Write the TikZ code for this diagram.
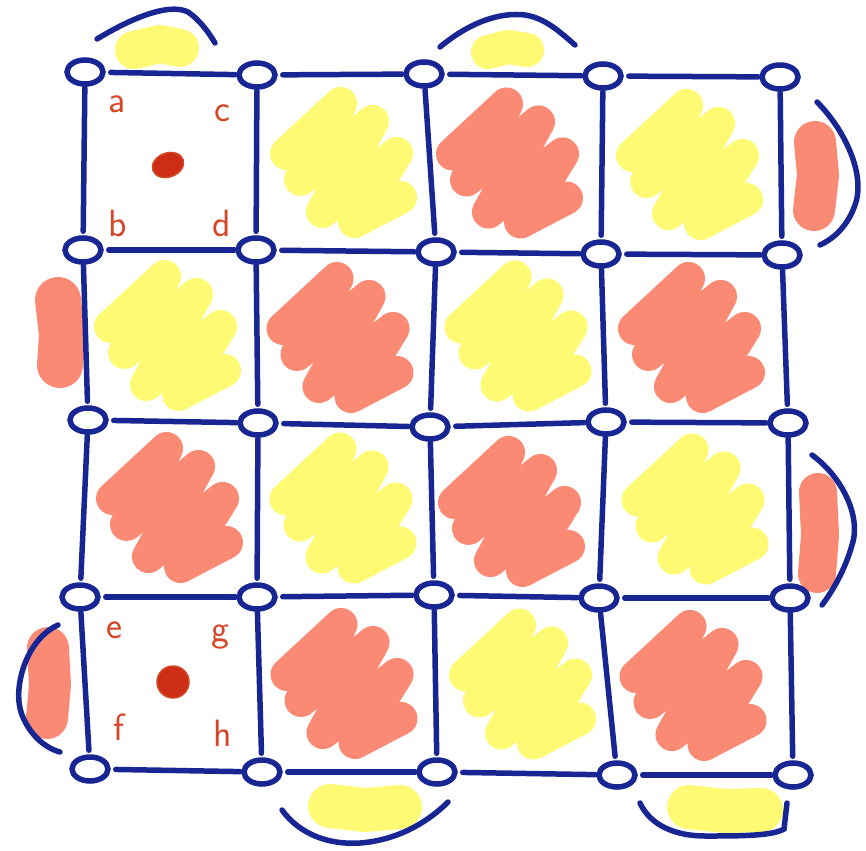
\documentclass[tikz,border=0pt]{standalone}
\usetikzlibrary{shapes.geometric,calc}
\definecolor{ink}{RGB}{24,38,148}
\definecolor{yel}{RGB}{255,250,115}
\definecolor{sal}{RGB}{250,138,115}
\definecolor{lett}{RGB}{212,72,40}
\definecolor{dotc}{RGB}{205,45,20}
\tikzset{
  vtx/.style={ellipse,draw=ink,line width=5.5pt,minimum width=36pt,minimum height=24pt,inner sep=0pt},
  hedge/.style={draw=ink,line width=5.5pt,line cap=round,shorten <=5pt,shorten >=1pt},
  vedge/.style={draw=ink,line width=5.5pt,line cap=round,shorten <=1pt,shorten >=4pt},
  arcline/.style={draw=ink,line width=5.5pt,line cap=round},
  blob/.style={line width=#1,line cap=round,line join=round},
  lab/.style={text=lett,font=\sffamily\fontsize{38}{38}\selectfont,inner sep=0pt},
  scrib/.pic={
    \draw[line width=33pt,line cap=round,line join=round]
      (-60,-10) -- (-6,-60) -- (-46,16) -- (26,-42) -- (-24,48) -- (50,-10) -- (8,58) -- (54,34);
  }
}
\begin{document}
\begin{tikzpicture}[x=1pt,y=-1pt]
\useasboundingbox (0,0) rectangle (866,850);
% grid positions
\coordinate (p00) at (85,72);  \coordinate (p01) at (257,75);  \coordinate (p02) at (424,74);  \coordinate (p03) at (603,76);  \coordinate (p04) at (780,77);
\coordinate (p10) at (83,250); \coordinate (p11) at (256,250); \coordinate (p12) at (436,252); \coordinate (p13) at (601,254); \coordinate (p14) at (782,255);
\coordinate (p20) at (88,420); \coordinate (p21) at (258,423); \coordinate (p22) at (430,427); \coordinate (p23) at (606,422); \coordinate (p24) at (788,423);
\coordinate (p30) at (80,597); \coordinate (p31) at (257,597); \coordinate (p32) at (434,595); \coordinate (p33) at (599,598); \coordinate (p34) at (790,598);
\coordinate (p40) at (90,769); \coordinate (p41) at (262,772); \coordinate (p42) at (437,772); \coordinate (p43) at (617,775); \coordinate (p44) at (793,775);
% cell scribbles
\pic[yel] at ($(p01)!0.5!(p12)$) {scrib};
\pic[sal] at ($(p02)!0.5!(p13)$) {scrib};
\pic[yel] at ($(p03)!0.5!(p14)$) {scrib};
\pic[yel] at ($(p10)!0.5!(p21)$) {scrib};
\pic[sal] at ($(p11)!0.5!(p22)$) {scrib};
\pic[yel] at ($(p12)!0.5!(p23)$) {scrib};
\pic[sal] at ($(p13)!0.5!(p24)$) {scrib};
\pic[sal] at ($(p20)!0.5!(p31)$) {scrib};
\pic[yel] at ($(p21)!0.5!(p32)$) {scrib};
\pic[sal] at ($(p22)!0.5!(p33)$) {scrib};
\pic[yel] at ($(p23)!0.5!(p34)$) {scrib};
\pic[sal] at ($(p31)!0.5!(p42)$) {scrib};
\pic[yel] at ($(p32)!0.5!(p43)$) {scrib};
\pic[sal] at ($(p33)!0.5!(p44)$) {scrib};
% outside blobs
\draw[yel,blob=38pt] (134,50) -- (160,44) -- (180,48);
\draw[yel,blob=34pt] (488,52) -- (508,47) -- (527,50);
\draw[sal,blob=42pt] (815,142) -- (818,175) -- (814,210);
\draw[sal,blob=46pt] (58,300) -- (62,335) -- (60,365);
\draw[sal,blob=38pt] (818,492) -- (820,535) -- (817,574);
\draw[sal,blob=42pt] (48,648) -- (50,685) -- (47,718);
\draw[yel,blob=44pt] (330,806) -- (365,810) -- (400,807);
\draw[yel,blob=44pt] (689,807) -- (725,811) -- (761,810);
% nodes
\foreach \r in {0,...,4}{\foreach \c in {0,...,4}{\node[vtx] (n\r\c) at (p\r\c) {};}}
% edges
\foreach \r in {0,...,4}{\foreach \c [evaluate=\c as \d using int(\c+1)] in {0,...,3}{\draw[hedge] (n\r\c) -- (n\r\d);}}
\foreach \r [evaluate=\r as \s using int(\r+1)] in {0,...,3}{\foreach \c in {0,...,4}{\draw[vedge] (n\r\c) -- (n\s\c);}}
% arcs
\draw[arcline] (97,39) .. controls (140,13) and (172,4) .. (188,12) .. controls (200,20) and (209,33) .. (215,43);
\draw[arcline] (440,47) .. controls (470,22) and (500,12) .. (525,15) .. controls (545,18) and (560,32) .. (575,45);
\draw[arcline] (817,102) .. controls (845,130) and (866,175) .. (855,205) .. controls (848,225) and (835,238) .. (820,245);
\draw[arcline] (812,455) .. controls (840,475) and (862,515) .. (852,545) .. controls (845,570) and (832,592) .. (822,605);
\draw[arcline] (58,625) .. controls (25,640) and (12,690) .. (22,715) .. controls (30,735) and (45,748) .. (60,752);
\draw[arcline] (282,810) .. controls (300,835) and (330,845) .. (360,843) .. controls (400,840) and (430,820) .. (448,802);
\draw[arcline] (640,803) .. controls (650,825) and (675,836) .. (705,836) .. controls (740,836) and (772,836) .. (784,829) -- (787,803);
% labels and dots
\node[lab] (la) at (117,104) {a};
\node[lab] (lc) at (222,113) {c};
\node[lab] (lb) at (118,223) {b};
\node[lab] (ld) at (222,223) {d};
\node[ellipse,fill=dotc,draw=lett,line width=1.5pt,minimum width=32pt,minimum height=24pt,rotate=20,inner sep=0pt] (dot1) at (168,165) {};
\node[lab] (le) at (114,630) {e};
\node[lab] (lg) at (220,637) {g};
\node[lab] (lf) at (119,727) {f};
\node[lab] (lh) at (223,733) {h};
\node[circle,fill=dotc,draw=lett,line width=1.5pt,minimum size=32pt,inner sep=0pt] (dot2) at (173,682) {};
\end{tikzpicture}
\end{document}
